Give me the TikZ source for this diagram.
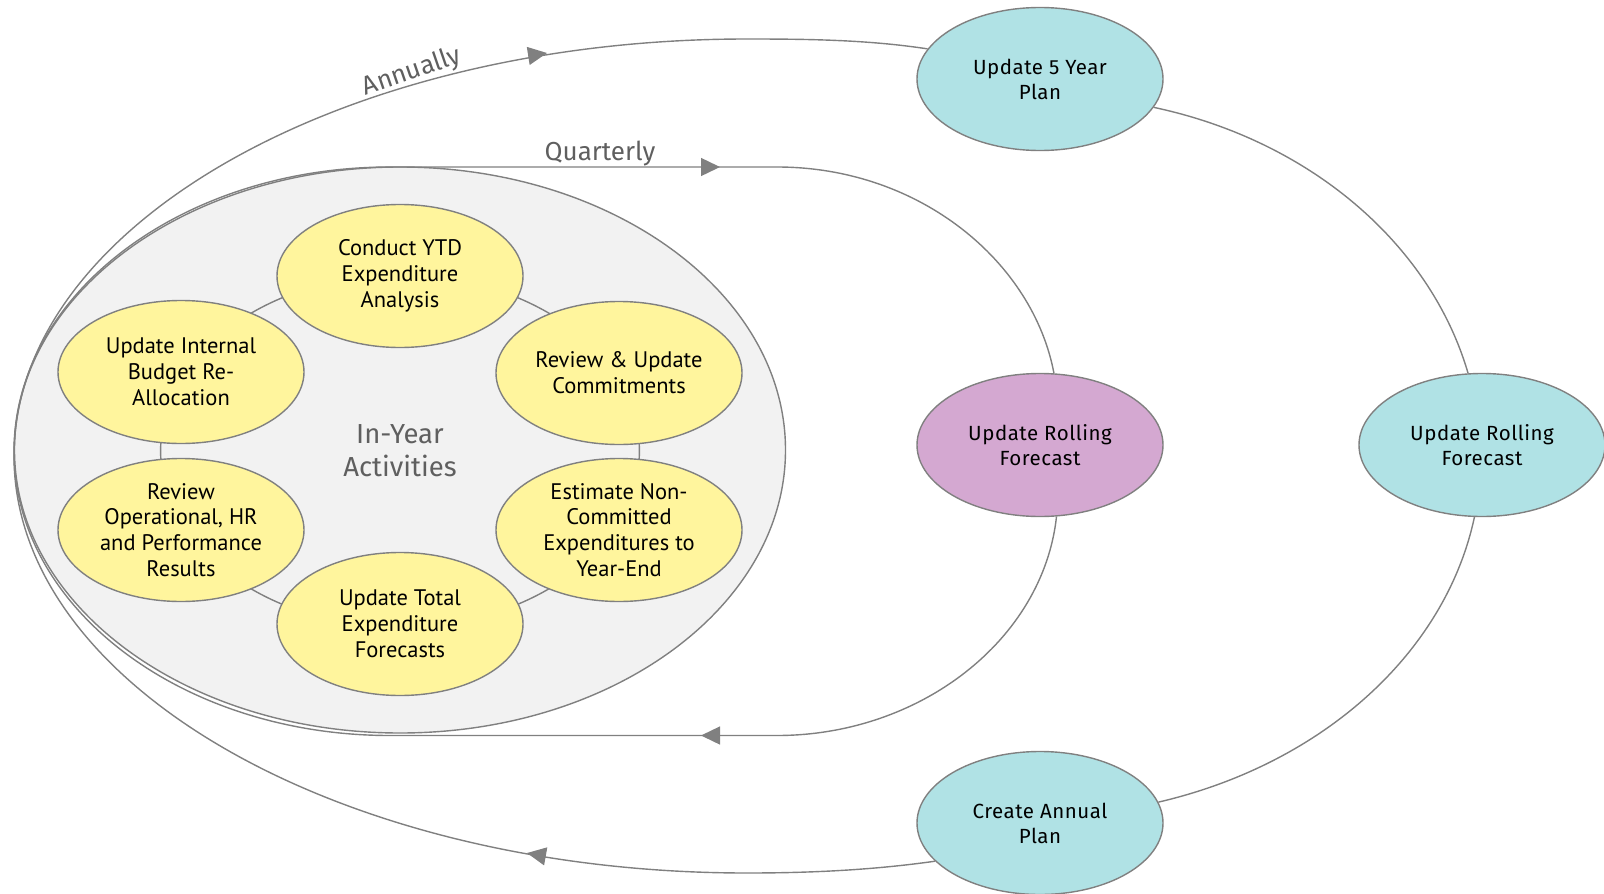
\documentclass[tikz,border=0pt]{standalone}
\usepackage{fontspec}
\usetikzlibrary{arrows.meta,shapes.geometric}
\newfontfamily\actfont{PT Sans}
\newfontfamily\stagefont[LetterSpace=2.5]{Fira Sans}
\newfontfamily\labelfont{Fira Sans}
\definecolor{linegray}{HTML}{808080}
\definecolor{panelgray}{HTML}{F2F2F2}
\definecolor{actyellow}{HTML}{FFF59D}
\definecolor{plancyan}{HTML}{B0E2E5}
\definecolor{fcpurple}{HTML}{D4A8D1}
\definecolor{labelgray}{HTML}{5F5F5F}
\begin{document}
\begin{tikzpicture}[x=1pt,y=-1pt,
  oval/.style={ellipse, draw=linegray, line width=1.4pt, minimum width=246pt,
    minimum height=143pt, inner sep=0pt, align=center},
  activity/.style={oval, fill=actyellow, font=\actfont\fontsize{22.5}{25.8}\selectfont},
  stage/.style={oval, fill=plancyan, font=\stagefont\fontsize{20.5}{25}\selectfont},
  link/.style={draw=linegray, line width=1.4pt},
  tip/.style={link, -{Triangle[length=19pt,width=18pt]}},
  cyclelabel/.style={text=labelgray, font=\labelfont\fontsize{26}{30}\selectfont, inner sep=0pt}]
\useasboundingbox (0,0) rectangle (1604,894);

% in-year panel with its ring of activities
\node[ellipse, draw=linegray, fill=panelgray, line width=1.4pt, minimum width=771pt,
  minimum height=566pt, inner sep=0pt] (panel) at (400,450) {};
\node[text=labelgray, align=center, font=\labelfont\fontsize{27.5}{33}\selectfont] (inyear)
  at (400,451) {In-Year\\Activities};
\draw[link] (400,451) ellipse [x radius=239.4pt, y radius=176pt];

\node[activity] (ytd) at (400,276) {Conduct YTD\\Expenditure\\Analysis};
\node[activity] (realloc) at (181,372) {Update Internal\\Budget Re-\\Allocation};
\node[activity] (commit) at (619,373) {Review \& Update\\Commitments};
\node[activity] (results) at (181,530) {Review\\Operational, HR\\and Performance\\Results};
\node[activity] (noncommit) at (619,530) {Estimate Non-\\Committed\\Expenditures to\\Year-End};
\node[activity] (total) at (400,624) {Update Total\\Expenditure\\Forecasts};

% planning stages
\node[stage] (p5) at (1040,79) {Update 5 Year\\Plan};
\node[stage, fill=fcpurple] (pr) at (1040,445) {Update Rolling\\Forecast};
\node[stage] (rr) at (1482,445) {Update Rolling\\Forecast};
\node[stage] (cap) at (1040,823) {Create Annual\\Plan};

% annual cycle
\draw[link] (cap.200) .. controls (872.3,870.1) and (809.7,873) .. (747,873)
  .. controls (342.2,873) and (14,686.3) .. (14,456)
  .. controls (14,225.7) and (342.2,39) .. (747,39)
  .. controls (807.2,39) and (867.6,39.7) .. (p5.165);
\draw[link] (p5.-14) .. controls (1310.7,140.7) and (1430.5,244.5) .. (rr.101);
\draw[link] (rr.-96) .. controls (1445.5,652.8) and (1322.9,763.9) .. (cap.10);

% quarterly cycle
\draw[link] (pr.-77) .. controls (1043,640) and (920,735.5) .. (777,735.5)
  -- (390,735.5)
  .. controls (182.3,735.5) and (14,608.2) .. (14,451.25)
  .. controls (14,294.3) and (182.3,167) .. (390,167)
  -- (777,167)
  .. controls (920,167) and (1033,262) .. (pr.79);

% direction marks
\coordinate (atop) at (547,53);
\coordinate (abot) at (527,853);
\coordinate (qtop) at (720,167);
\coordinate (qbot) at (701,735.5);
\draw[tip] ([shift={(-7,1.1)}]atop) -- (atop);
\draw[tip] ([shift={(7,1.25)}]abot) -- (abot);
\draw[tip] ([shift={(-2,0)}]qtop) -- (qtop);
\draw[tip] ([shift={(2,0)}]qbot) -- (qbot);

% cycle labels
\node[cyclelabel, rotate=19] (annual) at (412,72) {Annually};
\node[cyclelabel] (quarter) at (600,154) {Quarterly};
\end{tikzpicture}
\end{document}
